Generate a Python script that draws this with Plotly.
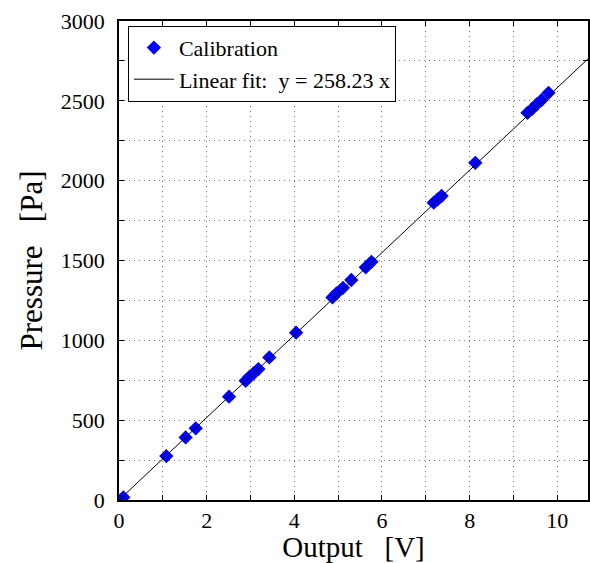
import plotly.graph_objects as go

# Calibration data
output_v = [0.10, 1.08, 1.52, 1.75, 2.51, 2.89, 2.98, 3.07, 3.18, 3.43, 4.04,
            4.87, 4.96, 5.11, 5.30, 5.63, 5.76, 7.18, 7.27, 7.36, 8.13,
            9.32, 9.42, 9.53, 9.64, 9.80]
pressure_pa = [17, 275, 392, 449, 647, 747, 772, 793, 820, 893, 1048,
               1269, 1294, 1329, 1378, 1457, 1492, 1862, 1883, 1904, 2112,
               2425, 2448, 2478, 2505, 2550]

slope = 258.23
fit_x = [0, 10.7]
fit_y = [slope * v for v in fit_x]

x_tickvals = list(range(0, 11))
x_ticktext = [str(v) if v % 2 == 0 else "" for v in x_tickvals]
y_tickvals = list(range(0, 3001, 250))
y_ticktext = [str(v) if v % 500 == 0 else "" for v in y_tickvals]

NB = "\u00a0"
font_family = "Liberation Serif, Times New Roman, serif"

fig = go.Figure()
fig.add_trace(go.Scatter(
    x=output_v, y=pressure_pa, mode="markers", name="Calibration",
    marker=dict(symbol="diamond", size=11, color="#0000ff", line=dict(width=0)),
))
fig.add_trace(go.Scatter(
    x=fit_x, y=fit_y, mode="lines",
    name=f"Linear fit:{NB}{NB}y = {slope:.2f} x",
    line=dict(color="black", width=1),
))

axis_common = dict(
    showline=True, linecolor="black", linewidth=1.5, mirror="allticks",
    ticks="inside", ticklen=5, tickcolor="black", tickwidth=1,
    showgrid=True, gridcolor="#7a7a7a", gridwidth=1, griddash="1px,4px",
    zeroline=False, tickfont=dict(family=font_family, size=22, color="black"),
)

fig.update_layout(
    width=590, height=563,
    margin=dict(l=119, r=0, t=21, b=63),
    plot_bgcolor="white", paper_bgcolor="white",
    font=dict(family=font_family, color="black"),
    showlegend=True,
    legend=dict(
        x=0.019, y=0.99, xanchor="left", yanchor="top",
        bgcolor="white", bordercolor="black", borderwidth=1,
        font=dict(family=font_family, size=22, color="black"),
        tracegroupgap=0, itemwidth=40,
    ),
    xaxis=dict(
        range=[0, 10.7], tickmode="array", tickvals=x_tickvals, ticktext=x_ticktext,
        title=dict(text=f"Output{NB}{NB}{NB}[V]", font=dict(family=font_family, size=29), standoff=7),
        ticklabelstandoff=0,
        **axis_common,
    ),
    yaxis=dict(
        range=[0, 3000], tickmode="array", tickvals=y_tickvals, ticktext=y_ticktext,
        title=dict(text=f"Pressure{NB}{NB}{NB}[Pa]", font=dict(family=font_family, size=31), standoff=9),
        ticklabelstandoff=8,
        **axis_common,
    ),
)

fig.write_html("out.html")
